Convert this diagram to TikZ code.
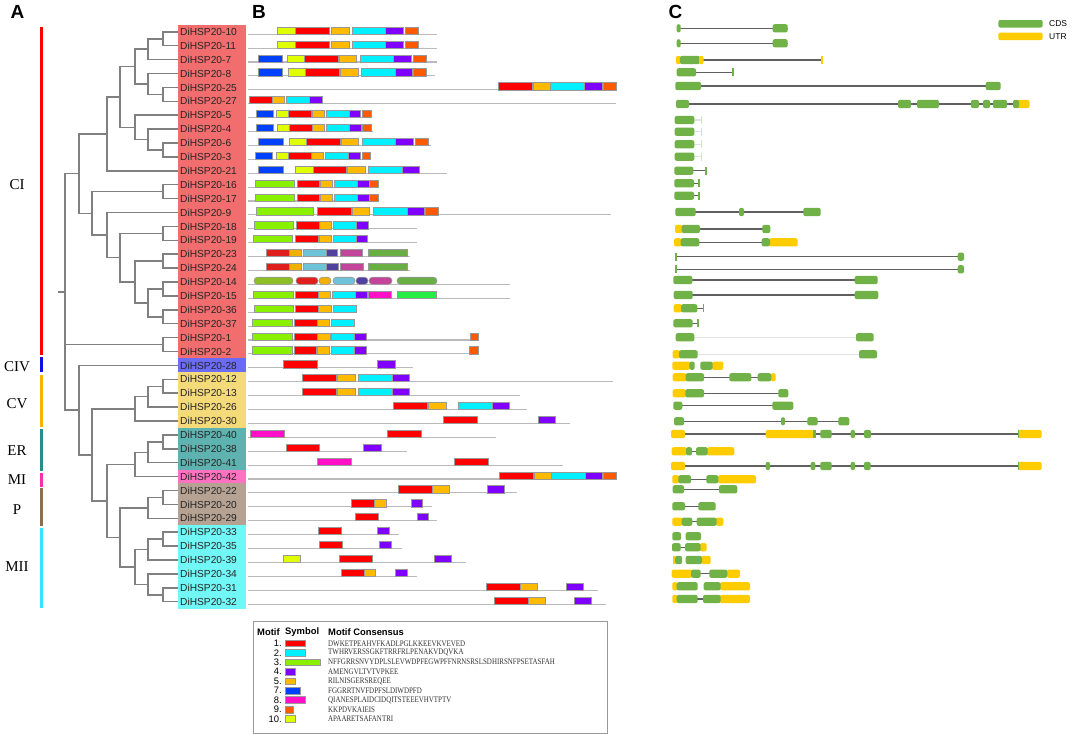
\documentclass[tikz,border=0pt]{standalone}
\usepackage{fontspec}
\setmainfont{Liberation Sans}
\newfontfamily\serifface{Liberation Serif}
\usepackage{tikz}
\usetikzlibrary{positioning}

% clade colours (label boxes and bars)
\definecolor{cCI}{RGB}{242,110,110}
\definecolor{cCIV}{RGB}{107,107,245}
\definecolor{cCV}{RGB}{245,218,122}
\definecolor{cER}{RGB}{94,179,176}
\definecolor{cMI}{RGB}{255,114,194}
\definecolor{cP}{RGB}{181,162,147}
\definecolor{cMII}{RGB}{114,247,247}
\definecolor{bCI}{RGB}{255,0,0}
\definecolor{bCIV}{RGB}{16,16,224}
\definecolor{bCV}{RGB}{242,183,5}
\definecolor{bER}{RGB}{46,139,139}
\definecolor{bMI}{RGB}{255,48,176}
\definecolor{bP}{RGB}{140,110,78}
\definecolor{bMII}{RGB}{48,232,248}
% motif colours
\definecolor{m1}{RGB}{255,0,0}
\definecolor{m2}{RGB}{0,240,255}
\definecolor{m3}{RGB}{136,240,0}
\definecolor{m4}{RGB}{128,0,255}
\definecolor{m5}{RGB}{255,186,0}
\definecolor{m7}{RGB}{0,64,255}
\definecolor{m8}{RGB}{255,16,200}
\definecolor{m9}{RGB}{255,90,0}
\definecolor{m10}{RGB}{224,255,0}
\definecolor{mA}{RGB}{224,30,30}
\definecolor{mB}{RGB}{242,176,0}
\definecolor{mC}{RGB}{110,195,217}
\definecolor{mD}{RGB}{80,64,160}
\definecolor{mE}{RGB}{194,69,154}
\definecolor{mF}{RGB}{106,175,68}
\definecolor{mG}{RGB}{141,190,38}
\definecolor{mH}{RGB}{34,238,68}
% gene structure colours
\definecolor{gcds}{RGB}{112,178,72}
\definecolor{gutr}{RGB}{255,204,0}
\definecolor{icn}{RGB}{96,96,96}
\definecolor{icf}{RGB}{226,226,226}
\definecolor{icx}{RGB}{255,255,255}

\tikzset{
  lab/.style={anchor=west,fill=cCI,text=black!85,text width=64pt,align=left,
    inner xsep=2pt,inner ysep=0pt,minimum height=14.1pt,
    font=\fontsize{10.2}{12}\selectfont},
  branch/.style={draw=black!50,line width=1.5pt},
  bar/.style={line width=3pt},
  clade/.style={font=\serifface\fontsize{15}{16}\selectfont},
  panel/.style={font=\bfseries\fontsize{19}{20}\selectfont},
  track/.style={draw=black!27,line width=1.1pt},
  motif/.style={draw=black!40,line width=0.6pt},
  intron/.style={line width=1.3pt},
  partc/.style={fill=gcds,rounded corners=2pt},
  partu/.style={fill=gutr,rounded corners=2pt},
  partt/.style={fill=gcds},
  partv/.style={fill=gutr},
  parts/.style={fill=gcds!35},
  legnum/.style={anchor=east,inner sep=0pt,font=\fontsize{9.4}{10}\selectfont},
  leghead/.style={anchor=west,inner sep=0pt,font=\bfseries\fontsize{9.4}{10}\selectfont},
  legseq/.style={anchor=west,inner sep=0pt,text=black!80,font=\serifface\fontsize{8.5}{9}\selectfont},
  legframe/.style={draw=black!40,line width=0.8pt}
}

\begin{document}
\begin{tikzpicture}[x=1pt,y=-1pt]
	\useasboundingbox (0,0) rectangle (1072,734);
	\fill[white] (0,0) rectangle (1072,734);
	
	% panel letters
	\node[panel] (pA) at (17.5,12) {A};
	\node[panel] (pB) at (259,12) {B};
	\node[panel] (pC) at (675.5,12) {C};
	
	% gene labels
	\foreach \r/\g/\t in {0/CI/10,1/CI/11,2/CI/7,3/CI/8,4/CI/25,5/CI/27,6/CI/5,7/CI/4,
		8/CI/6,9/CI/3,10/CI/21,11/CI/16,12/CI/17,13/CI/9,14/CI/18,15/CI/19,16/CI/23,
		17/CI/24,18/CI/14,19/CI/15,20/CI/36,21/CI/37,22/CI/1,23/CI/2,24/CIV/28,
		25/CV/12,26/CV/13,27/CV/26,28/CV/30,29/ER/40,30/ER/38,31/ER/41,32/MI/42,
		33/P/22,34/P/20,35/P/29,36/MII/33,37/MII/35,38/MII/39,39/MII/34,40/MII/31,41/MII/32}
	\node[lab, fill=c\g] (l\r) at (178,{31.8+13.9*\r}) {DiHSP20-\t};
	
	% internal nodes of the tree
	\coordinate (na) at (163,38.75);  \coordinate (nb) at (148,49.18);
	\coordinate (nc) at (163,94.35);  \coordinate (nd) at (148,83.93);
	\coordinate (ne) at (135,66.55);  \coordinate (nf) at (163,149.95);
	\coordinate (ng) at (148,139.53); \coordinate (nh) at (135,127.36);
	\coordinate (ni) at (120,96.96);  \coordinate (nj) at (107,133.88);
	\coordinate (nk) at (163,191.65); \coordinate (nl) at (163,233.35);
	\coordinate (no) at (163,261.15); \coordinate (np) at (163,288.95);
	\coordinate (nq) at (163,316.75); \coordinate (nr) at (148,302.85);
	\coordinate (ns) at (135,282.0);  \coordinate (nn) at (120,257.68);
	\coordinate (nm) at (107,235.09); \coordinate (nt) at (92,213.37);
	\coordinate (nu) at (79,173.62);  \coordinate (nv) at (163,344.55);
	\coordinate (cva) at (163,386.25); \coordinate (cvb) at (148,396.68);
	\coordinate (cvc) at (135,408.84); \coordinate (era) at (163,441.85);
	\coordinate (erb) at (148,452.28); \coordinate (erc) at (135,464.44);
	\coordinate (pa) at (163,497.45);  \coordinate (pb) at (148,507.88);
	\coordinate (ma) at (163,539.15);  \coordinate (mb) at (148,549.58);
	\coordinate (mc) at (163,594.75);  \coordinate (md) at (148,584.33);
	\coordinate (me) at (135,566.95);  \coordinate (pm) at (120,537.41);
	\coordinate (em) at (107,500.93);  \coordinate (ce) at (92,454.88);
	\coordinate (nw) at (79,410.14);
	\coordinate (root) at (65,291.88); \coordinate (root0) at (58,291.88);
	
	% branches
	\foreach \p/\c in {na/l0.west,na/l1.west,nb/na,nb/l2.west,nc/l4.west,nc/l5.west,
		nd/l3.west,nd/nc,ne/nb,ne/nd,nf/l8.west,nf/l9.west,ng/l7.west,ng/nf,
		nh/l6.west,nh/ng,ni/ne,ni/nh,nj/ni,nj/l10.west,nk/l11.west,nk/l12.west,
		nl/l14.west,nl/l15.west,no/l16.west,no/l17.west,np/l18.west,np/l19.west,
		nq/l20.west,nq/l21.west,nr/np,nr/nq,ns/no,ns/nr,nn/nl,nn/ns,nm/l13.west,
		nm/nn,nt/nk,nt/nm,nu/nj,nu/nt,nv/l22.west,nv/l23.west,
		cva/l25.west,cva/l26.west,cvb/cva,cvb/l27.west,cvc/cvb,cvc/l28.west,
		era/l29.west,era/l30.west,erb/era,erb/l31.west,erc/erb,erc/l32.west,
		pa/l33.west,pa/l34.west,pb/pa,pb/l35.west,ma/l36.west,ma/l37.west,
		mb/ma,mb/l38.west,mc/l40.west,mc/l41.west,md/l39.west,md/mc,me/mb,me/md,
		pm/pb,pm/me,em/erc,em/pm,ce/cvc,ce/em,nw/l24.west,nw/ce,
		root/nu,root/nv,root/nw}
	\draw[branch] (\p) |- (\c);
	\draw[branch] (root0) -- (root);
	
	% clade bars and names
	\foreach \g/\a/\b/\ym in {CI/27/355/185,CIV/357/372/367,CV/375/427/404,
		ER/429/471/451,MI/473/487/480,P/488/526/510,MII/528/608/567}{
		\draw[bar, draw=b\g] (41,\a) -- (41,\b);
		\node[clade] (t\g) at (17,\ym) {\g};
	}
	
	% motif tracks
	\foreach \r/\e/\ms in {
		0/437/{10/277/295,1/295/329,5/331/349,2/352/385,4/385/403,9/405/418},
		1/437/{10/277/295,1/295/329,5/331/349,2/352/385,4/385/403,9/405/418},
		2/437/{7/258/282,10/287/304,1/304/338,5/339/356,2/360/393,4/393/411,9/413/426},
		3/435/{7/258/282,10/288/305,1/305/339,5/340/358,2/361/395,4/395/412,9/413/426},
		4/616/{1/498/532,5/533/550,2/550/584,4/584/602,9/603/616},
		5/616/{1/249/272,5/272/284,2/286/309,4/309/322},
		6/372/{7/256/273,10/276/288,1/288/311,5/312/324,2/326/349,4/349/360,9/362/371},
		7/373/{7/256/273,10/277/289,1/289/312,5/312/324,2/326/349,4/349/361,9/362/371},
		8/431/{7/258/283,10/289/306,1/306/340,5/341/358,2/362/395,4/395/413,9/415/428},
		9/371/{7/255/272,10/276/288,1/288/311,5/311/323,2/325/348,4/348/360,9/362/370},
		10/447/{7/258/283,10/295/313,1/313/346,5/347/365,2/368/402,4/402/419},
		11/378/{3/255/294,1/297/319,5/320/332,2/334/357,4/357/369,9/369/378},
		12/378/{3/255/294,1/297/319,5/320/332,2/334/357,4/357/369,9/369/378},
		13/611/{3/256/313,1/317/351,5/352/369,2/373/407,4/407/424,9/425/438},
		14/417/{3/254/293,1/296/319,5/319/331,2/333/356,4/356/368},
		15/417/{3/253/292,1/295/318,5/319/331,2/333/356,4/356/367},
		16/410/{A/266/289,B/289/301,C/303/326,D/326/337,E/340/362,F/368/407},
		17/410/{A/266/289,B/289/301,C/303/326,D/326/338,E/340/363,F/368/407},
		19/510/{3/253/293,1/295/318,5/318/330,2/332/355,4/355/367,8/368/391,H/397/436},
		20/357/{3/254/293,1/295/318,5/318/331,2/333/356},
		21/355/{3/252/292,1/294/317,5/317/329,2/331/354},
		22/470/{3/252/292,1/294/317,5/317/330,2/331/354,4/354/366,9/470/478},
		23/469/{3/252/292,1/294/316,5/317/329,2/331/354,4/354/366,9/469/478},
		24/413/{1/283/317,4/377/395},
		25/613/{1/302/336,5/337/355,2/358/392,4/392/409},
		26/520/{1/302/336,5/337/355,2/358/392,4/392/409},
		27/527/{1/393/427,5/428/446,2/458/492,4/492/509},
		28/570/{1/443/477,4/538/555},
		29/496/{8/250/284,1/387/421},
		30/407/{1/286/319,4/363/381},
		31/563/{8/317/351,1/454/488},
		32/616/{1/499/533,5/534/551,2/551/585,4/585/602,9/603/616},
		33/517/{1/398/432,5/432/449,4/487/504},
		34/432/{1/351/374,5/374/386,4/411/422},
		35/437/{1/355/378,4/417/428},
		36/399/{1/318/341,4/377/389},
		37/402/{1/319/342,4/379/391},
		38/466/{10/283/300,1/339/372,4/434/451},
		39/417/{1/341/364,5/364/375,4/395/407},
		40/598/{1/486/520,5/520/537,4/566/583},
		41/606/{1/494/528,5/528/545,4/574/591}}{
		\pgfmathsetmacro\yy{31.8+13.9*\r}
		\draw[track] (248,\yy+2.4) -- (\e,\yy+2.4);
		\foreach \m/\a/\b in \ms
		\draw[motif, fill=m\m] (\a,\yy-4.8) rectangle (\b,\yy+2.4);
	}
	% DiHSP20-14 drawn with rounded motifs
	\pgfmathsetmacro\yy{31.8+13.9*18}
	\draw[track] (248,\yy+2.4) -- (510,\yy+2.4);
	\foreach \m/\a/\b in {G/254/293,A/296/318,B/319/331,C/333/355,D/356/368,E/369/392,F/397/437}
	\draw[motif, fill=m\m, rounded corners=3.5pt] (\a,\yy-4.8) rectangle (\b,\yy+2.4);
	
	% motif legend
	\draw[legframe] (253,621) rectangle (607,733);
	\node[leghead] (hm) at (257,632) {Motif};
	\node[leghead] (hs) at (285,632) {Symbol};
	\node[leghead] (hc) at (328,632) {Motif Consensus};
	\foreach \n/\w/\s [count=\k from 0] in {
		1/20.7/DWKETPEAHVFKADLPGLKKEEVKVEVED,
		2/20.7/TWHRVERSSGKFTRRFRLPENAKVDQVKA,
		3/35.7/NFFGRRSNVYDPLSLEVWDPFEGWPFFNRNSRSLSDHIRSNFPSETASFAH,
		4/10.7/AMENGVLTVTVPKEE,
		5/10.7/RILNISGERSREQEE,
		7/15/FGGRRTNVFDPFSLDIWDPFD,
		8/20.7/QIANESPLAIDCIDQITSTEEEVHVTPTV,
		9/8/KKPDVKAIEIS,
		10/10.7/APAARETSAFANTRI}{
		\pgfmathsetmacro\yy{643.3+9.46*\k}
		\node[legnum] (n\n) at (282,\yy) {\n.};
		\draw[motif, fill=m\n] (285,\yy-3.3) rectangle (285+\w,\yy+3.3);
		\node[legseq] (s\n) at (328,\yy) {\scalebox{0.82}[1]{\s}};
	}
	
	% gene structures
	\foreach \yc/\ik/\s/\e/\ps in {
		28.3/n/677/787.7/{c/676.7/680.7,c/772.7/787.7},
		43.3/n/677/787.7/{c/676.7/680.7,c/772.7/787.7},
		60/n/676/822/{u/676/681,c/680/700,u/699/703.5,v/820.5/822.5},
		72.3/n/677/733/{c/676.7/696,t/732/734},
		86/n/676/1000/{c/675.3/701,c/985.7/1000.7},
		104/n/676/1029/{c/676/689,c/898/911,c/917/939,c/971/979,c/983/990,c/993/1007,u/1017/1029.5,c/1013/1019},
		120/f/694/701/{c/674.7/694.3,s/700.5/702},
		131.7/f/694/701/{c/674.7/694.3,s/700.5/702},
		144.3/f/694/701/{c/674.7/694.3,s/700.5/702},
		156.7/f/694/701/{c/674.7/694.3,s/700.5/702},
		170.7/n/690/706/{c/674.3/693.3,t/704.7/707.3},
		183.3/n/690/698.7/{c/674.3/694,t/698/699.5},
		195.7/n/690/698.7/{c/674.3/694,t/698/699.5},
		212/n/690/810/{c/675.3/695.7,c/739/744,c/803.3/820.7},
		229/n/690/765/{u/675/682.5,c/681.7/700,c/762.3/770.3},
		242.3/n/690/765/{u/674/681.5,c/680.7/699.3,u/769/797.7,c/761.7/770},
		256.7/n/675.5/960/{t/675/676.5,c/957.7/964},
		269.3/n/675.5/960/{t/675/676.5,c/957.7/964},
		280/n/690/860/{c/673.3/692.3,c/854.7/877.7},
		295/n/690/860/{c/673.7/692.7,c/854.7/878.3},
		308.3/n/690/703.3/{u/673.7/682,c/681/697.3,t/702.7/704},
		323.3/n/690/697.7/{c/673.3/692.7,t/697/698.5},
		337.3/f/690/860/{c/675.7/694.3,c/856/873.7},
		354.3/f/690/860/{u/672.7/680,c/679/697.7,c/859/877},
		365.7/x/690/701/{u/672.3/690,c/689.3/694.7,u/712/723.3,c/700.3/712.7},
		377.3/n/700/760/{u/672.7/686.5,c/685.7/704,c/729.3/751.3,u/771/775.7,c/757.7/771.3},
		393.3/n/700/780/{u/672.7/686,c/685.3/704,c/778.3/788.3},
		405.7/n/680/780/{c/673.3/682.3,c/772.3/793.3},
		421.3/n/680/845/{c/674/684,c/781/785,c/807.3/817.7,c/838.3/849.3},
		434/n/680/1030/{u/671/685,u/765.7/813.5,t/813.3/815.7,c/820.3/831.7,c/850.7/855,c/864/871,u/1018/1041.7,t/1017.5/1019},
		451.3/n/686/700/{u/671.7/686.8,c/686/692,u/707/734.3,c/696/707.7},
		466/n/680/1030/{u/671/685,c/765.7/770,c/810.7/815.3,c/820.3/831.7,c/850.7/855,c/864/870.7,u/1018/1041.7,t/1017.5/1019},
		479.3/n/690/710/{u/672.3/679,c/678.3/691,u/718/756,c/706.3/718.3},
		489.3/n/680/725/{c/672.7/684,c/719/737.3},
		506.3/n/680/705/{c/672.3/685,c/698.3/715.7},
		521.7/n/685/700/{u/672.3/682.5,c/681.7/692.3,u/716/723.3,c/696.7/716.7},
		536.3/x/680/690/{c/672.3/681,c/685.7/701},
		547.3/n/680/690/{c/672/680.7,u/700/706.7,c/685/700.7},
		560/x/680/690/{v/673.3/675.3,c/675/682,u/701.5/710.7,c/685.7/702},
		573.7/n/695/715/{u/671.7/692,c/691/700.7,u/727/740,c/709.3/727.3},
		586.3/x/690/710/{u/672.3/677.5,c/676.7/697.7,u/720/750,c/703.7/720.7},
		599/n/690/710/{u/672.3/677.5,c/676.7/697.7,u/720/750,c/703/720.7}}{
		\draw[intron, draw=ic\ik] (\s,\yc) -- (\e,\yc);
		\foreach \k/\a/\b in \ps
		\path[part\k] (\a,\yc-4.1) rectangle (\b,\yc+4.1);
	}
	
	% gene structure legend
	\path[partc] (998.3,20) rectangle (1042.7,27.5);
	\path[partu] (998.3,32.7) rectangle (1042.7,40.2);
	\node[anchor=west,inner sep=0pt,font=\fontsize{8.5}{9}\selectfont] (kc) at (1049,23.7) {CDS};
	\node[anchor=west,inner sep=0pt,font=\fontsize{8.5}{9}\selectfont] (ku) at (1049,36.4) {UTR};
\end{tikzpicture}
\end{document}
